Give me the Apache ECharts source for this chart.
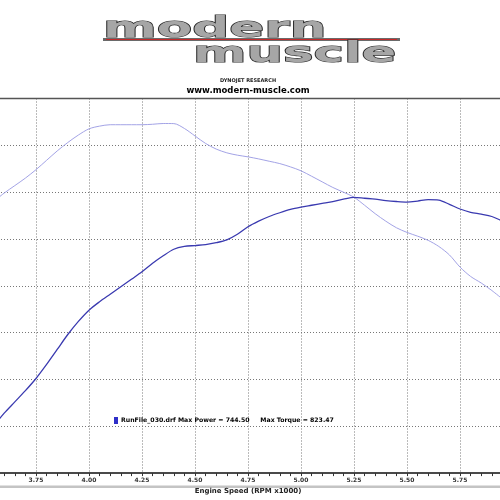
<!DOCTYPE html>
<html>
<head>
<meta charset="utf-8">
<script src="https://cdn.jsdelivr.net/npm/echarts@6/dist/echarts.min.js"></script>
<style>
html,body{margin:0;padding:0;background:#fff;overflow:hidden;width:500px;height:500px;}
#wrap{position:relative;width:500px;height:500px;overflow:hidden;}
#c{position:absolute;left:-17px;top:0;width:530px;height:500px;}
</style>
</head>
<body>
<div id="wrap"><div id="c"></div></div>
<script>
// Data
const rpm = [3.55,3.60,3.65,3.70,3.75,3.80,3.85,3.90,3.95,4.00,4.05,4.10,4.15,4.20,4.25,4.30,4.35,4.40,4.45,4.50,4.55,4.60,4.65,4.70,4.75,4.80,4.85,4.90,4.95,5.00,5.05,5.10,5.15,5.20,5.25,5.30,5.35,5.40,5.45,5.50,5.55,5.60,5.65,5.70,5.75,5.80,5.85,5.90,5.95];
const power = [500,514,526,538,551,566,582,598,612,624,633,641,649,657,665,674,682,689,692,693,694,696,699,705,713,719,724,728,731.5,734,736,738,740,742.5,744.5,743.5,742.5,741,740,739.4,740.5,742,741.5,737,732,728.5,726.5,724,719];
const torque = [740,749,757,765,774,784,794,803,811,817.6,820.5,822,822,822,822,822.5,823.3,823.2,818,810,802,796,792,789.5,787.7,785.5,783,780.5,777,772.8,767,761,755,750,744.6,736,727,719,712,707,703,698.5,692,683,670,660,653,645,636];
const yTicks = [450,850,50];
const xTicks = [3.5,6.0,0.25];
const legendText = 'RunFile_030.drf Max Power = 744.50     Max Torque = 823.47';
const logoTop = 'modern';
const logoBottom = 'muscle';
const subTitle1 = 'DYNOJET RESEARCH';
const subTitle2 = 'www.modern-muscle.com';
const axisName = 'Engine Speed (RPM x1000)';

const OX = 17; // chart canvas is shifted 17px left
const chart = echarts.init(document.getElementById('c'), null, {renderer:'canvas'});
const font = '"DejaVu Sans", Verdana, sans-serif';
chart.setOption({
  animation:false,
  backgroundColor:'#fff',
  grid:{left:0,right:0,top:98.5,height:386,containLabel:false},
  xAxis:{
    type:'value', min:xTicks[0], max:xTicks[1], interval:xTicks[2],
    axisLine:{show:true,lineStyle:{color:'#4a4a4a',width:2}},
    axisTick:{show:true,length:3,lineStyle:{color:'#333',width:1}},
    minorTick:{show:true,splitNumber:5,length:3,lineStyle:{color:'#333',width:1}},
    splitLine:{show:true,lineStyle:{color:'#777',type:[1,2],width:1}},
    axisLabel:{formatter:v=>v.toFixed(2),fontSize:6,fontWeight:'bold',color:'#333',fontFamily:font,margin:4,showMinLabel:false,showMaxLabel:false},
    name:axisName,nameLocation:'middle',nameGap:11,
    nameTextStyle:{fontSize:7,fontWeight:'bold',color:'#222',fontFamily:font}
  },
  yAxis:{
    type:'value', min:yTicks[0], max:yTicks[1], interval:yTicks[2],
    axisLine:{show:false},axisTick:{show:false},axisLabel:{show:false},
    splitLine:{show:true,lineStyle:{color:'#777',type:[1,2],width:1}}
  },
  legend:{
    show:true,left:109+OX,top:412,orient:'horizontal',
    itemWidth:4,itemHeight:7,icon:'rect',
    data:[{name:'Power'}],
    formatter:()=>legendText,
    textStyle:{fontSize:6.2,fontWeight:'bold',color:'#000',fontFamily:font,padding:[0,0,0,-2]}
  },
  series:[
    {name:'Torque',type:'line',smooth:0.3,showSymbol:false,clip:true,
     data:rpm.map((r,i)=>[r,torque[i]]),
     lineStyle:{color:'#a3a3e6',width:1},itemStyle:{color:'#a3a3e6'}},
    {name:'Power',type:'line',smooth:0.3,showSymbol:false,clip:true,
     data:rpm.map((r,i)=>[r,power[i]]),
     lineStyle:{color:'#3a3ab0',width:1.3},itemStyle:{color:'#2f2fc8'}}
  ],
  graphic:[
    {type:'rect',shape:{x:0,y:485.5,width:530,height:2.5},style:{fill:'#c4c4c4'},z:-1,silent:true},
    {type:'line',shape:{x1:0,y1:98.5,x2:530,y2:98.5},style:{stroke:'#555',lineWidth:1.5},z:10,silent:true},
    {type:'line',shape:{x1:103+OX,y1:39.5,x2:400+OX,y2:39.5},style:{stroke:'#6a6a6a',lineWidth:3},z:5,silent:true},
    {type:'line',shape:{x1:106+OX,y1:39.5,x2:397+OX,y2:39.5},style:{stroke:'#c42a2a',lineWidth:1.2},z:6,silent:true},
    {type:'text',x:103+OX,y:29,scaleX:1.78,scaleY:1,z:7,silent:true,
     style:{text:logoTop,font:'bold 29px '+font,fill:'#a6a6a6',stroke:'#2a2a2a',lineWidth:1.2,
            verticalAlign:'middle',align:'left',shadowColor:'rgba(0,0,0,0.4)',shadowOffsetX:1.5,shadowOffsetY:1.5,shadowBlur:1}},
    {type:'text',x:193+OX,y:54,scaleX:1.77,scaleY:1,z:7,silent:true,
     style:{text:logoBottom,font:'bold 29px '+font,fill:'#a6a6a6',stroke:'#2a2a2a',lineWidth:1.2,
            verticalAlign:'middle',align:'left',shadowColor:'rgba(0,0,0,0.4)',shadowOffsetX:1.5,shadowOffsetY:1.5,shadowBlur:1}},
    {type:'text',x:248+OX,y:81,silent:true,
     style:{text:subTitle1,font:'bold 5px '+font,fill:'#222',align:'center',verticalAlign:'middle'}},
    {type:'text',x:248+OX,y:90.5,silent:true,
     style:{text:subTitle2,font:'bold 8.5px '+font,fill:'#000',align:'center',verticalAlign:'middle'}}
  ]
});
</script>
</body>
</html>
